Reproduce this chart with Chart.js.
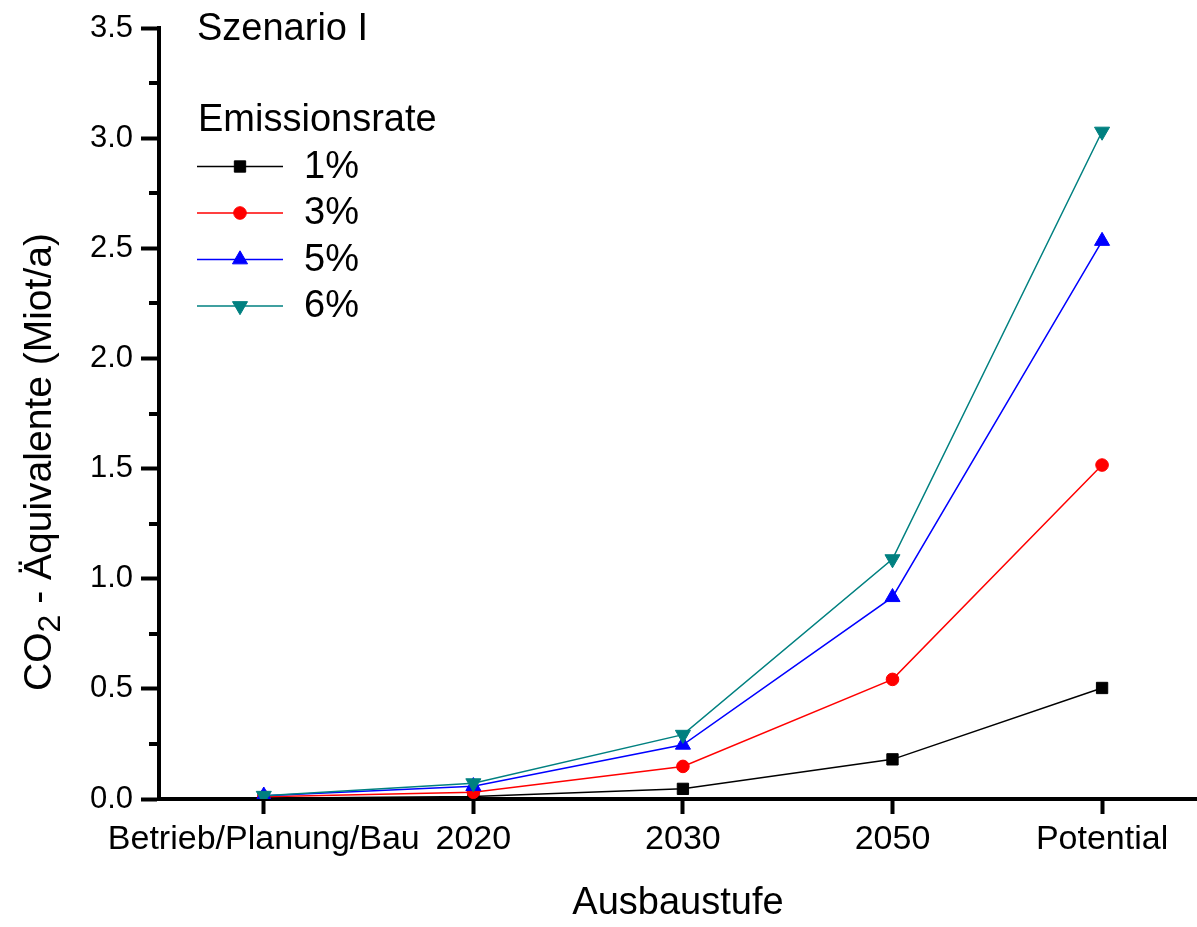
<!DOCTYPE html>
<html>
<head>
<meta charset="utf-8">
<title>Szenario I – CO2-Äquivalente</title>
<script src="https://cdn.jsdelivr.net/npm/chart.js@4/dist/chart.umd.min.js"></script>
<style>
  html, body { margin: 0; padding: 0; background: #fff; overflow: hidden; }
  #wrap { width: 1197px; height: 927px; }
  canvas { display: block; }
</style>
</head>
<body>
<div id="wrap"><canvas id="c" width="1197" height="927"></canvas></div>
<script>
// Ausbaustufen (x categories)
const categories = ['Betrieb/Planung/Bau', '2020', '2030', '2050', 'Potential'];

// CO2-Äquivalente in Mio t/a per emission rate
const rate1 = [0.003, 0.011, 0.046, 0.180, 0.504];
const rate3 = [0.010, 0.031, 0.148, 0.543, 1.516];
const rate5 = [0.015, 0.058, 0.246, 0.916, 2.533];
const rate6 = [0.015, 0.072, 0.292, 1.089, 3.030];

const seriesNames = ['1%', '3%', '5%', '6%'];
const yMajorTicks = [0, 0.5, 1.0, 1.5, 2.0, 2.5, 3.0, 3.5];
const yMinorTicks = [0.25, 0.75, 1.25, 1.75, 2.25, 2.75, 3.25];

const scenarioTitle = 'Szenario I';
const legendTitle = 'Emissionsrate';
const xTitle = 'Ausbaustufe';

const FONT = "'Liberation Sans', Arial, Helvetica, sans-serif";
const AXIS_W = 4;

const toPoints = arr => arr.map((v, i) => ({ x: i, y: v }));

const series = [
  { data: rate1, color: '#000000', style: 'rect',     radius: 8,   rotation: 0,   order: 3 },
  { data: rate3, color: '#ff0000', style: 'circle',   radius: 6.3, rotation: 0,   order: 2 },
  { data: rate5, color: '#0000ff', style: 'triangle', radius: 8.7, rotation: 0,   order: 1 },
  { data: rate6, color: '#008080', style: 'triangle', radius: 8.7, rotation: 180, order: 0 }
];

const datasets = series.map((s, i) => ({
  label: seriesNames[i],
  data: toPoints(s.data),
  borderColor: s.color,
  backgroundColor: s.color,
  borderWidth: 1.5,
  tension: 0,
  pointStyle: s.style,
  pointRadius: s.radius,
  pointRotation: s.rotation,
  pointBackgroundColor: s.color,
  pointBorderColor: s.color,
  pointBorderWidth: 1,
  order: s.order
}));

// Short minor ticks on the y axis
const minorTicksPlugin = {
  id: 'minorTicks',
  afterDraw(chart) {
    const y = chart.scales.y;
    const ctx = chart.ctx;
    const x0 = chart.chartArea.left;
    ctx.save();
    ctx.strokeStyle = '#000';
    ctx.lineWidth = AXIS_W;
    yMinorTicks.forEach(v => {
      const py = Math.round(y.getPixelForValue(v));
      ctx.beginPath();
      ctx.moveTo(x0 - 10, py);
      ctx.lineTo(x0, py);
      ctx.stroke();
    });
    ctx.restore();
  }
};

// Y axis title with subscript in CO2
const yTitlePlugin = {
  id: 'yTitle',
  afterDraw(chart) {
    const ctx = chart.ctx;
    const size = 39;
    const subSize = 32;
    const parts = [
      { t: 'CO', f: size, dy: 0 },
      { t: '2', f: subSize, dy: 9 },
      { t: ' - Äquivalente (Miot/a)', f: size, dy: 0 }
    ];
    ctx.save();
    let total = 0;
    parts.forEach(p => {
      ctx.font = p.f + 'px ' + FONT;
      p.w = ctx.measureText(p.t).width;
      total += p.w;
    });
    ctx.translate(51, 462);
    ctx.rotate(-Math.PI / 2);
    ctx.fillStyle = '#000';
    ctx.textBaseline = 'alphabetic';
    ctx.textAlign = 'left';
    let x = -total / 2;
    parts.forEach(p => {
      ctx.font = p.f + 'px ' + FONT;
      ctx.fillText(p.t, x, p.dy);
      x += p.w;
    });
    ctx.restore();
  }
};

// Scenario label and legend drawn inside the plot area
const legendPlugin = {
  id: 'innerLegend',
  afterDraw(chart) {
    const ctx = chart.ctx;
    ctx.save();
    ctx.fillStyle = '#000';
    ctx.textBaseline = 'alphabetic';
    ctx.textAlign = 'left';
    ctx.font = '38px ' + FONT;
    ctx.fillText(scenarioTitle, 197, 40);
    ctx.fillText(legendTitle, 198, 131);
    const rowY0 = 166.5, rowStep = 46.5;
    chart.data.datasets.forEach((ds, i) => {
      const yy = rowY0 + i * rowStep;
      ctx.strokeStyle = ds.borderColor;
      ctx.lineWidth = 1.5;
      ctx.beginPath();
      ctx.moveTo(197, yy);
      ctx.lineTo(283, yy);
      ctx.stroke();
      ctx.fillStyle = ds.pointBackgroundColor;
      ctx.strokeStyle = ds.pointBorderColor;
      ctx.lineWidth = ds.pointBorderWidth;
      Chart.helpers.drawPoint(ctx, {
        pointStyle: ds.pointStyle,
        rotation: ds.pointRotation,
        radius: ds.pointRadius,
        borderWidth: ds.pointBorderWidth
      }, 240, yy);
      ctx.fillStyle = '#000';
      ctx.font = '38px ' + FONT;
      ctx.textBaseline = 'middle';
      ctx.fillText(ds.label, 304, yy + 1);
      ctx.textBaseline = 'alphabetic';
    });
    ctx.restore();
  }
};

new Chart(document.getElementById('c'), {
  type: 'line',
  data: { datasets },
  plugins: [minorTicksPlugin, yTitlePlugin, legendPlugin],
  options: {
    responsive: false,
    devicePixelRatio: 1,
    animation: false,
    events: [],
    layout: { autoPadding: false, padding: { top: 28, right: 0, bottom: 0, left: 0 } },
    plugins: {
      legend: { display: false },
      tooltip: { enabled: false },
      title: { display: false }
    },
    scales: {
      x: {
        type: 'linear',
        min: -0.5,
        max: 4.453,
        afterBuildTicks: scale => { scale.ticks = categories.map((_, i) => ({ value: i })); },
        afterFit: scale => {
          scale.height = 128;
          scale.paddingLeft = 0;
          scale.paddingRight = 0;
        },
        grid: { drawOnChartArea: false, drawTicks: true, tickLength: 15, tickWidth: AXIS_W, tickColor: '#000' },
        border: { display: true, color: '#000', width: AXIS_W },
        ticks: {
          autoSkip: false,
          maxRotation: 0,
          padding: 5,
          color: '#000',
          font: { family: FONT, size: 34 },
          callback: v => categories[v] ?? ''
        },
        title: {
          display: true,
          text: xTitle,
          color: '#000',
          font: { family: FONT, size: 38 },
          padding: { top: 0, bottom: 1 }
        }
      },
      y: {
        min: 0,
        max: 3.5,
        afterBuildTicks: scale => { scale.ticks = yMajorTicks.map(v => ({ value: v })); },
        afterFit: scale => {
          scale.width = 159;
          scale.paddingTop = 0;
          scale.paddingBottom = 0;
        },
        grid: { drawOnChartArea: false, drawTicks: true, tickLength: 18, tickWidth: AXIS_W, tickColor: '#000' },
        border: { display: true, color: '#000', width: AXIS_W },
        ticks: {
          padding: 8,
          color: '#000',
          font: { family: FONT, size: 31 },
          callback: v => Number(v).toFixed(1)
        },
        title: { display: false }
      }
    }
  }
});
</script>
</body>
</html>
